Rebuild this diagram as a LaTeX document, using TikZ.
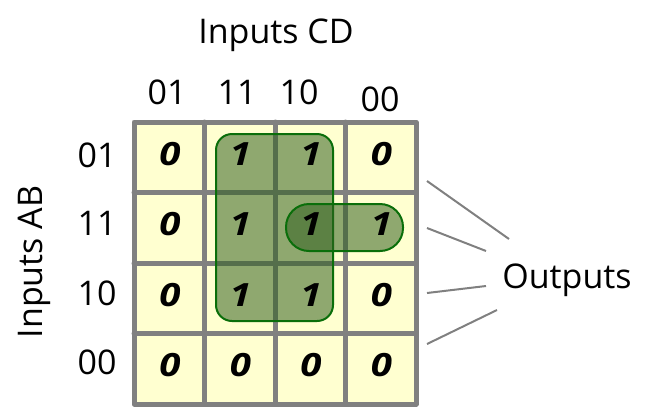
\documentclass[tikz,border=0pt]{standalone}
\usepackage{fontspec}
\setmainfont{Open Sans}
\newcommand{\kdigit}[1]{\scalebox{1.2}[1]{#1}}
\begin{document}
\begin{tikzpicture}[x=1pt,y=-1pt,
  lbl/.style={inner sep=0pt,font=\fontsize{34}{40}\selectfont},
  cell/.style={inner sep=0pt,font=\fontsize{32}{38}\selectfont\bfseries\itshape},
  gridline/.style={draw=gray,line width=5pt,line cap=round,line join=round},
  grp/.style={draw={rgb,255:red,10;green,110;blue,10},line width=2pt,fill={rgb,255:red,51;green,97;blue,33},fill opacity=0.55},
  outline/.style={draw=gray,line width=2pt}]
\useasboundingbox (0,0) rectangle (655,408);
\definecolor{kyellow}{RGB}{255,255,208}
% cells background
\fill[kyellow] (134,122) rectangle (416,404);
% grid
\draw[gridline] (134,122) rectangle (416,404);
\foreach \x in {204.5,275,345.5} \draw[gridline] (\x,122) -- (\x,404);
\foreach \y in {192.5,263,333.5} \draw[gridline] (134,\y) -- (416,\y);
% groups
\draw[grp,rounded corners=16pt] (216,134) rectangle (333,321);
\draw[grp,rounded corners=23pt] (286,204) rectangle (403,251);
% cell values
\foreach \v [count=\i from 0] in {0,1,1,0} \node[cell] (r0c\i) at (170+70.5*\i,154) {\kdigit{\v}};
\foreach \v [count=\i from 0] in {0,1,1,1} \node[cell] (r1c\i) at (170+70.5*\i,224.5) {\kdigit{\v}};
\foreach \v [count=\i from 0] in {0,1,1,0} \node[cell] (r2c\i) at (170+70.5*\i,295) {\kdigit{\v}};
\foreach \v [count=\i from 0] in {0,0,0,0} \node[cell] (r3c\i) at (170+70.5*\i,365.5) {\kdigit{\v}};
% labels
\node[lbl] (cd) at (276,35) {Inputs CD};
\node[lbl] (c0) at (167,92) {01};
\node[lbl] (c1) at (237,92) {11};
\node[lbl] (c2) at (299,92) {10};
\node[lbl] (c3) at (380,99) {00};
\node[lbl] (r0) at (97,155) {01};
\node[lbl] (r1) at (97,223) {11};
\node[lbl] (r2) at (97,293) {10};
\node[lbl] (r3) at (97,362) {00};
\node[lbl,rotate=90] (ab) at (34,262) {Inputs AB};
\node[lbl] (out) at (567,280) {Outputs};
% connectors
\coordinate (a1) at (427,181); \coordinate (b1) at (509,239);
\coordinate (a2) at (427,228); \coordinate (b2) at (486,251);
\coordinate (a3) at (427,293); \coordinate (b3) at (486,286);
\coordinate (a4) at (427,344); \coordinate (b4) at (497,310);
\draw[outline] (a1) -- (b1);
\draw[outline] (a2) -- (b2);
\draw[outline] (a3) -- (b3);
\draw[outline] (a4) -- (b4);
\end{tikzpicture}
\end{document}
